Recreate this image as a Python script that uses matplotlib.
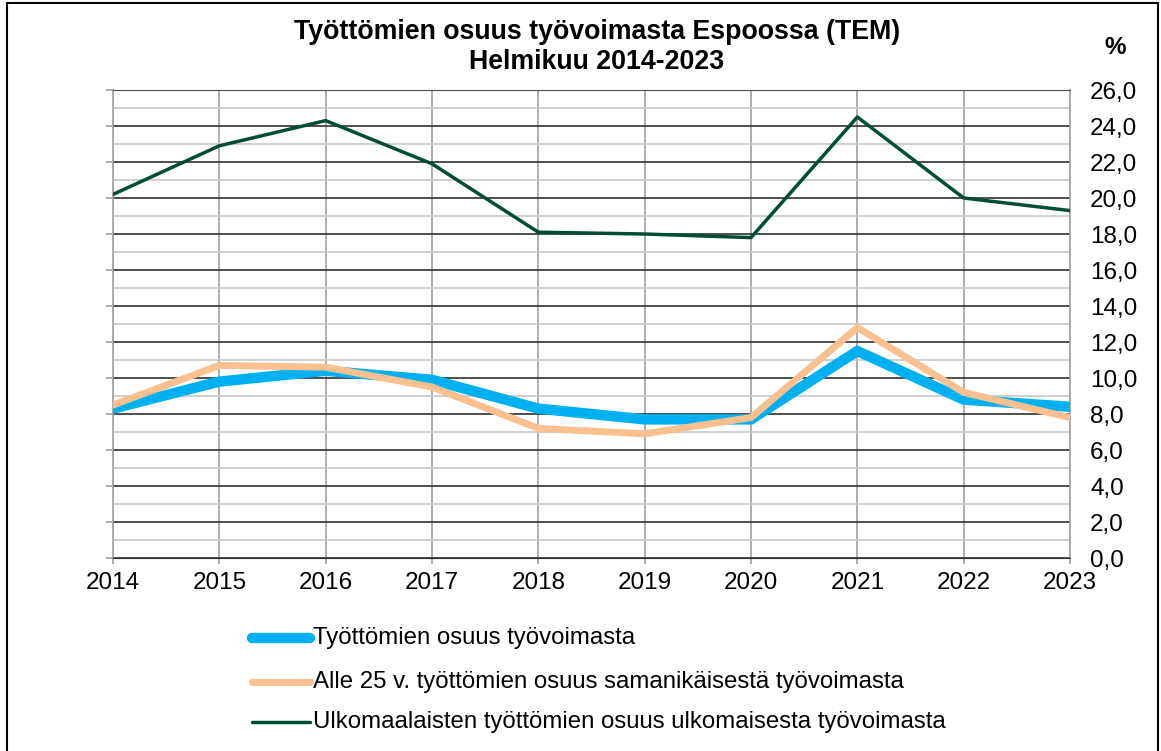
import matplotlib.pyplot as plt
from matplotlib.lines import Line2D
from matplotlib.patches import Rectangle

years = [2014, 2015, 2016, 2017, 2018, 2019, 2020, 2021, 2022, 2023]
kaikki = [8.3, 9.8, 10.4, 9.9, 8.3, 7.7, 7.7, 11.5, 8.8, 8.4]
nuoret = [8.5, 10.7, 10.6, 9.5, 7.2, 6.9, 7.8, 12.8, 9.2, 7.8]
ulkomaalaiset = [20.2, 22.9, 24.3, 21.9, 18.1, 18.0, 17.8, 24.5, 20.0, 19.3]

nimet = ['Työttömien osuus työvoimasta',
         'Alle 25 v. työttömien osuus samanikäisestä työvoimasta',
         'Ulkomaalaisten työttömien osuus ulkomaisesta työvoimasta']
varit = ['#00b0f0', '#fac090', '#004d33']
paksuus = [7.5, 5.0, 2.5]

plt.rcParams['font.family'] = ['Liberation Sans', 'DejaVu Sans']

fig = plt.figure(figsize=(11.61, 7.51), dpi=100)
fig.patches.append(Rectangle((7 / 1161, -0.01), 1151 / 1161, 1 - 3 / 751 + 0.01,
                             transform=fig.transFigure, fill=False,
                             edgecolor='black', linewidth=1.5))

ax = fig.add_axes([113 / 1161, 1 - 558 / 751, (1070 - 113) / 1161, (558 - 90) / 751])

ax.plot(years, kaikki, color=varit[0], lw=paksuus[0], solid_joinstyle='miter', zorder=3)
ax.plot(years, nuoret, color=varit[1], lw=paksuus[1], solid_joinstyle='miter', zorder=4)
ax.plot(years, ulkomaalaiset, color=varit[2], lw=paksuus[2], zorder=5)

ax.set_xlim(2014, 2023)
ax.set_ylim(0, 26)
ax.set_xticks(years)
ax.set_yticks(range(0, 27, 2))
ax.set_yticks(range(1, 26, 2), minor=True)
ax.set_yticklabels(['%d,0' % v for v in range(0, 27, 2)])

ax.grid(axis='y', which='major', color='#303030', lw=1.2, zorder=1)
ax.grid(axis='y', which='minor', color='#c8c8c8', lw=1.2, zorder=1)
ax.grid(axis='x', which='major', color='#a0a0a0', lw=1.2, zorder=1)

for s in ['left', 'right']:
    ax.spines[s].set_color('#a0a0a0')
    ax.spines[s].set_linewidth(1.2)
ax.spines['top'].set_color('#505050')
ax.spines['bottom'].set_color('#303030')

ax.tick_params(axis='y', which='major', left=True, right=False, labelleft=False,
               labelright=True, length=5, color='#a0a0a0', width=1.2,
               labelsize=17.5, pad=9.5)
ax.tick_params(axis='y', which='minor', left=False, right=False)
ax.tick_params(axis='x', length=4, color='#a0a0a0', width=1.2, labelsize=17.5, pad=6)

fig.text(597 / 1161, 1 - 32 / 751, 'Työttömien osuus työvoimasta Espoossa (TEM)',
         ha='center', va='center', fontsize=19.3, fontweight='bold')
fig.text(597 / 1161, 1 - 62 / 751, 'Helmikuu 2014-2023',
         ha='center', va='center', fontsize=19.3, fontweight='bold')
fig.text(1115 / 1161, 1 - 47 / 751, '%', ha='center', va='center',
         fontsize=17.5, fontweight='bold')

rivit = [638, 682, 722]
for nimi, vari, lw, y in zip(nimet, varit, paksuus, rivit):
    yy = 1 - y / 751
    fig.add_artist(Line2D([252 / 1161, 310 / 1161], [yy, yy], color=vari, lw=lw,
                          solid_capstyle='round', transform=fig.transFigure))
    fig.text(313 / 1161, yy, nimi, ha='left', va='center', fontsize=17.3)

fig.savefig('out.png', dpi=100)
